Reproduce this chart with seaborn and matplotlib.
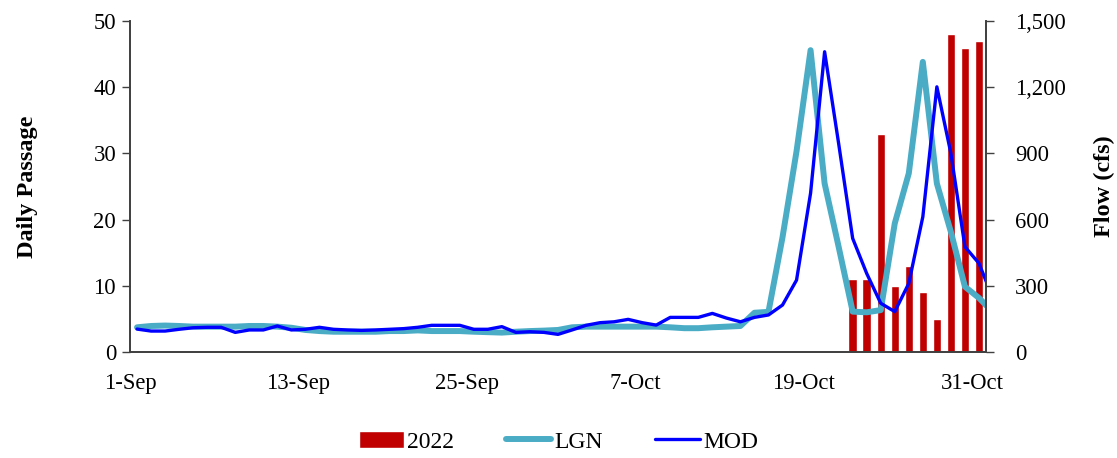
import pandas as pd
import numpy as np
import matplotlib
matplotlib.use('Agg')
import matplotlib.pyplot as plt
import seaborn as sns
from matplotlib.ticker import FuncFormatter

# daily flow, 1-Sep .. 1-Nov (cfs)
dates = pd.date_range('2022-09-01', '2022-11-01', freq='D')
lgn = [112, 118, 120, 118, 115, 115, 115, 115, 118, 118, 115,
       110, 100, 95, 92, 92, 92,
       92, 95, 95, 98, 95, 95, 95,
       92, 90, 88, 92, 95, 97, 100,
       112, 115, 115, 115, 115, 115, 115,
       112, 108, 108, 112, 115, 118, 178,
       182, 520, 910, 1368, 764, 477, 183,
       180, 190, 583, 810, 1315, 764, 544,
       296, 245, 180]
mod = [104, 95, 95, 103, 110, 112, 112, 89, 100, 100, 118,
       100, 103, 112, 103, 100, 98,
       100, 103, 106, 112, 121, 121, 121,
       103, 103, 115, 89, 92, 89, 80,
       100, 121, 133, 137, 148, 133, 122,
       157, 157, 157, 175, 154, 137, 157,
       168, 213, 326, 720, 1361, 945, 515,
       356, 221, 183, 311, 613, 1202, 900,
       477, 402, 243]

# daily passage 2022
bar_dates = pd.date_range('2022-10-22', '2022-10-31', freq='D')
passage = [11, 11, 33, 10, 13, 9, 5, 48, 46, 47]

tick_labels = ['1-Sep', '13-Sep', '25-Sep', '7-Oct', '19-Oct', '31-Oct']

start = pd.Timestamp('2022-09-01')
flow = pd.DataFrame({'day': (dates - start).days + 0.5, 'LGN': lgn, 'MOD': mod})
bars = pd.DataFrame({'day': (bar_dates - start).days + 0.5, 'passage': passage})

sns.set_theme(style='white', rc={'text.color': 'black', 'axes.labelcolor': 'black'})
plt.rcParams['font.family'] = ['Liberation Serif', 'DejaVu Serif']

fig = plt.figure(figsize=(11.17, 4.58), dpi=100)
ax = fig.add_axes([0.1164, 0.2314, 0.7663, 0.7226])
ax2 = ax.twinx()

sns.barplot(data=bars, x='day', y='passage', native_scale=True, width=0.6,
            color='#C00000', saturation=1, ax=ax, label='2022')
sns.lineplot(data=flow, x='day', y='LGN', color='#4BACC6', lw=4.3, ax=ax2, label='LGN')
sns.lineplot(data=flow, x='day', y='MOD', color='#0000FF', lw=2.4, ax=ax2, label='MOD')

ax.set_xlim(0, 61)
ax.set_ylim(0, 50)
ax2.set_ylim(0, 1500)
ax.set_xticks([0, 12, 24, 36, 48, 60])
ax.set_xticklabels(tick_labels)
ax.set_yticks(range(0, 51, 10))
ax2.set_yticks(range(0, 1501, 300))
ax2.yaxis.set_major_formatter(FuncFormatter(lambda v, p: f'{int(v):,}'))

ax.set_xlabel('')
ax.set_ylabel('Daily Passage', fontsize=17.5, fontweight='bold', color='black')
ax2.set_ylabel('Flow (cfs)', fontsize=17.5, fontweight='bold', rotation=90, color='black')
ax.yaxis.set_label_coords(-0.108, 0.5)
ax2.yaxis.set_label_coords(1.126, 0.5)

for a in (ax, ax2):
    a.tick_params(axis='both', labelsize=16.3, length=6, width=1, direction='out',
                  colors='#404040', labelcolor='black')
    for s in a.spines.values():
        s.set_color('#404040')
    a.spines['top'].set_visible(False)
    a.grid(False)
ax.tick_params(axis='x', pad=9)
ax.tick_params(axis='y', pad=4)
ax2.tick_params(axis='y', pad=15)

h1, l1 = ax.get_legend_handles_labels()
h2, l2 = ax2.get_legend_handles_labels()
if ax2.get_legend():
    ax2.get_legend().remove()
if ax.get_legend():
    ax.get_legend().remove()
leg = fig.legend(h1 + h2, l1 + l2, loc='center', bbox_to_anchor=(0.5, 0.035), ncol=3,
                 frameon=False, fontsize=17, handlelength=1.9, handletextpad=0.15,
                 columnspacing=2.2)
for t in leg.get_texts():
    t.set_color('black')

fig.savefig('out.png', dpi=100)
